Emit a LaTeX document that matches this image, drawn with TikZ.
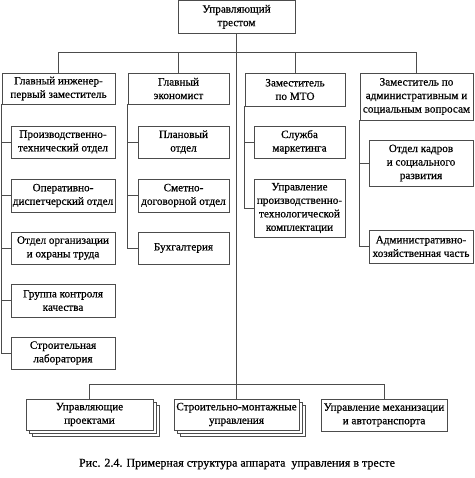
\documentclass[tikz,border=0pt]{standalone}
\usepackage{fontspec}
\setmainfont{Liberation Serif}
\newfontfamily\boxfont{Liberation Serif}[FakeBold=0.5]
\usetikzlibrary{shadows}
\definecolor{linec}{gray}{0.3}
\tikzset{
  box/.style={draw=linec, fill=white, align=center, inner sep=0pt, line width=0.7pt,
              font=\boxfont\fontsize{11.2}{13.5}\selectfont},
  stackbox/.style={box, double copy shadow={shadow xshift=3pt, shadow yshift=-3pt, draw=linec, fill=white}},
  conn/.style={draw=linec, line width=0.7pt}
}
\newcommand\bx[7][box]{\node[#1,minimum width={(#5-#3)*1pt},minimum height={(#6-#4)*1pt}] (#2) at ({(#3+#5)/2},{(#4+#6)/2}) {#7};}
\begin{document}
\begin{tikzpicture}[x=1pt,y=-1pt]
\useasboundingbox (0,0) rectangle (474,478);
\fill[white] (0,0) rectangle (474,478);
% top
\bx{top}{178}{0.5}{295}{33}{Управляющий\\трестом}
% row 1
\bx{ra}{2}{73}{115}{104}{Главный инженер-\\первый заместитель}
\bx{rb}{128}{73}{229}{104}{Главный\\экономист}
\bx{rc}{245}{73}{345}{106}{Заместитель\\по МТО}
\bx{rd}{360}{73}{473}{120}{Заместитель по\\административным и\\социальным вопросам}
% column 1
\bx{a1}{11}{126}{115}{158}{Производственно-\\технический отдел}
\bx{a2}{11}{179}{115}{212}{Оперативно-\\диспетчерский отдел}
\bx{a3}{11}{232}{115}{264}{Отдел организации\\и охраны труда}
\bx{a4}{11}{284}{115}{317}{Группа контроля\\качества}
\bx{a5}{11}{337}{115}{369}{Строительная\\лаборатория}
% column 2
\bx{b1}{138}{126}{229}{158}{Плановый\\отдел}
\bx{b2}{138}{179}{229}{212}{Сметно-\\договорной отдел}
\bx{b3}{138}{232}{229}{264}{Бухгалтерия}
% column 3
\bx{c1}{254}{126}{345}{158}{Служба\\маркетинга}
\bx{c2}{254}{179}{345}{237}{Управление\\производственно-\\технологической\\комплектации}
% column 4
\bx{d1}{369}{140}{473}{186}{Отдел кадров\\и социального\\развития}
\bx{d2}{369}{230}{473}{263}{Административно-\\хозяйственная часть}
% bottom
\bx[stackbox]{e1}{26}{399}{153}{430}{Управляющие\\проектами}
\bx[stackbox]{e2}{174}{399}{299}{430}{Строительно-монтажные\\управления}
\bx{e3}{321}{399}{447}{431}{Управление механизации\\и автотранспорта}
% caption
\node[font=\boxfont\fontsize{12}{14}\selectfont] (cap) at (237,464) {Рис. 2.4. Примерная структура аппарата~ управления в тресте};
% connectors
\draw[conn] (ra.north) -- ++(0,-20) -| (rd.north);
\draw[conn] (rb.north) -- ++(0,-20);
\draw[conn] (rc.north) -- ++(0,-20);
\draw[conn] (top.south) -- (top.south |- e2.north);
\draw[conn] (e1.north) -- ++(0,-14) -| (e3.north);
\foreach \t in {a1,a2,a3,a4,a5} \draw[conn] (ra.south west) |- (\t.west);
\foreach \t in {b1,b2,b3} \draw[conn] (rb.south west) |- (\t.west);
\foreach \t in {c1,c2} \draw[conn] (rc.south west) |- (\t.west);
\foreach \t in {d1,d2} \draw[conn] (rd.south west) |- (\t.west);
\end{tikzpicture}
\end{document}
